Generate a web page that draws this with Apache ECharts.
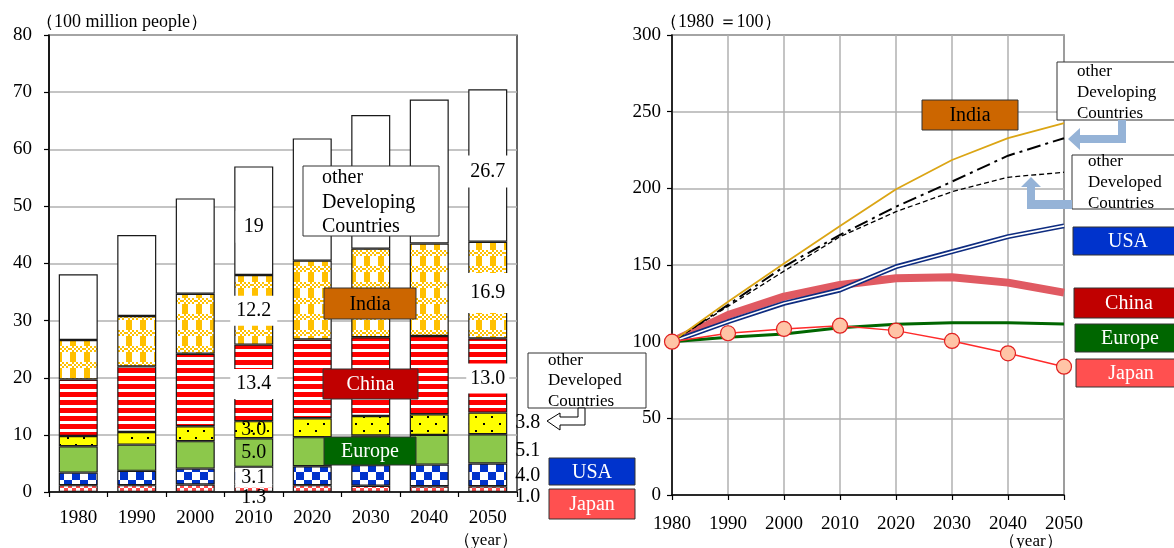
<!DOCTYPE html>
<html>
<head>
<meta charset="utf-8">
<script src="https://cdn.jsdelivr.net/npm/echarts@6/dist/echarts.min.js"></script>
<style>
  html, body { margin: 0; padding: 0; background: #ffffff; }
  #main { width: 1174px; height: 548px; }
</style>
</head>
<body>
<div id="main"></div>
<script>
// ---- Population by region (100 million people) ----
const years = ['1980', '1990', '2000', '2010', '2020', '2030', '2040', '2050'];

const popJapan        = [1.2, 1.2, 1.3, 1.3, 1.2, 1.1, 1.0, 1.0];
const popUSA          = [2.2, 2.5, 2.8, 3.1, 3.3, 3.6, 3.8, 4.0];
const popEurope       = [4.6, 4.6, 4.8, 5.0, 5.1, 5.2, 5.2, 5.1];
const popOtherDevd    = [1.8, 2.2, 2.6, 3.0, 3.3, 3.4, 3.6, 3.8];
const popChina        = [9.9, 11.5, 12.7, 13.4, 13.8, 13.8, 13.7, 13.0];
const popIndia        = [6.9, 8.8, 10.5, 12.2, 13.8, 15.5, 16.2, 16.9];
const popOtherDevg    = [11.5, 14.2, 16.7, 19, 21.4, 23.4, 25.2, 26.7];

// ---- Population index (1980 = 100) ----
const idxIndia        = [100, 126, 151, 175.5, 199.4, 218.5, 232.7, 242.5];
const idxOtherDevg    = [100, 124, 148.9, 169.6, 188, 204.4, 221.3, 232.7];
const idxOtherDevd    = [100, 123, 146, 168.5, 184.8, 197.8, 207.2, 210.5];
const idxUSA          = [100, 113, 125, 133.7, 148.9, 158.7, 168.5, 175.5];
const idxChina        = [100, 117.4, 129.4, 137, 141.4, 142, 138.5, 132];
const idxEurope       = [100, 102.9, 105, 109.1, 111.4, 112.4, 112.4, 111.5];
const idxJapan        = [100, 105.5, 108.3, 110.4, 107.2, 100.5, 92.4, 83.7];

const FONT = '"Liberation Serif", "Times New Roman", serif';

// ---- fill patterns for the stacked bars ----
function makePattern(w, h, draw) {
  const c = document.createElement('canvas');
  c.width = w; c.height = h;
  const g = c.getContext('2d');
  draw(g, w, h);
  return { image: c, repeat: 'repeat' };
}
const patJapan = makePattern(8, 8, (g) => {
  g.fillStyle = '#ffffff'; g.fillRect(0, 0, 8, 8);
  g.fillStyle = '#FF4B4B'; g.fillRect(0, 0, 4, 4); g.fillRect(4, 4, 4, 4);
});
const patUSA = makePattern(16, 16, (g) => {
  g.fillStyle = '#ffffff'; g.fillRect(0, 0, 16, 16);
  g.fillStyle = '#0033CC'; g.fillRect(0, 0, 8, 8); g.fillRect(8, 8, 8, 8);
});
const patOtherDevd = makePattern(16, 14, (g) => {
  g.fillStyle = '#FFFF00'; g.fillRect(0, 0, 16, 14);
  g.fillStyle = '#000000'; g.fillRect(3, 3, 2, 2); g.fillRect(11, 10, 2, 2);
});
const patChina = makePattern(4, 8, (g) => {
  g.fillStyle = '#ffffff'; g.fillRect(0, 0, 4, 8);
  g.fillStyle = '#FF0000'; g.fillRect(0, 0, 4, 5);
});
const patIndia = makePattern(14, 16, (g) => {
  g.fillStyle = '#ffffff'; g.fillRect(0, 0, 14, 16);
  g.fillStyle = '#FFC000';
  g.fillRect(0, 0, 6, 10);
  for (let y = 10; y < 16; y += 2) {
    for (let x = 0; x < 14; x += 2) {
      if (((x + y) / 2) % 2 === 0) g.fillRect(x, y, 2, 2);
    }
  }
});

// ---- bar labels (value text shown on the 2010 and 2050 columns) ----
const baseLbl = { show: true, color: '#000', fontSize: 20, fontFamily: FONT,
  formatter: (p) => Number(p.value).toFixed(1) };
const boxed = (extra) => Object.assign({}, baseLbl, { position: 'inside', backgroundColor: '#ffffff' }, extra);
const plain = (extra) => Object.assign({}, baseLbl, { position: 'inside' }, extra);
const side  = (extra) => Object.assign({}, baseLbl, { position: 'right', distance: 8 }, extra);

function barData(values, labelByIndex) {
  return values.map((v, i) => labelByIndex[i] ? { value: v, label: labelByIndex[i] } : v);
}

const barBorder = { borderColor: '#1a1a1a', borderWidth: 1.2 };
function barSeries(name, values, color, labels) {
  return {
    name, type: 'bar', stack: 'pop', xAxisIndex: 0, yAxisIndex: 0,
    barWidth: 39,
    itemStyle: Object.assign({ color }, barBorder),
    data: barData(values, labels)
  };
}

const lineBase = { type: 'line', xAxisIndex: 1, yAxisIndex: 1, symbol: 'none' };

const option = {
  animation: false,
  backgroundColor: '#ffffff',
  textStyle: { fontFamily: FONT },
  grid: [
    { left: 49, top: 35, width: 468, height: 457, show: true, borderColor: '#000', borderWidth: 1.2 },
    { left: 672, top: 35, width: 392, height: 460, show: true, borderColor: '#000', borderWidth: 1.2 }
  ],
  xAxis: [
    {
      type: 'category', gridIndex: 0, data: years,
      axisLine: { lineStyle: { color: '#000', width: 1.5 } },
      axisTick: { show: true, length: 5, lineStyle: { color: '#000', width: 1.2 } },
      axisLabel: { color: '#000', fontSize: 19, fontFamily: FONT, margin: 17, interval: 0 }
    },
    {
      type: 'category', gridIndex: 1, data: years, boundaryGap: false,
      axisLine: { lineStyle: { color: '#000', width: 1.5 } },
      axisTick: { show: true, length: 5, lineStyle: { color: '#000', width: 1.2 } },
      axisLabel: { color: '#000', fontSize: 19, fontFamily: FONT, margin: 20, interval: 0 },
      splitLine: { show: true, lineStyle: { color: '#B0B0B0', width: 1.5 } }
    }
  ],
  yAxis: [
    {
      type: 'value', gridIndex: 0, min: 0, max: 80, interval: 10,
      axisLine: { show: true, lineStyle: { color: '#000', width: 1.5 } },
      axisTick: { show: true, length: 5, lineStyle: { color: '#000', width: 1.2 } },
      axisLabel: { color: '#000', fontSize: 19, fontFamily: FONT, margin: 17 },
      splitLine: { show: true, lineStyle: { color: '#B0B0B0', width: 1.5 } }
    },
    {
      type: 'value', gridIndex: 1, min: 0, max: 300, interval: 50,
      axisLine: { show: true, lineStyle: { color: '#000', width: 1.5 } },
      axisTick: { show: true, length: 5, lineStyle: { color: '#000', width: 1.2 } },
      axisLabel: { color: '#000', fontSize: 19, fontFamily: FONT, margin: 11 },
      splitLine: { show: true, lineStyle: { color: '#B0B0B0', width: 1.5 } }
    }
  ],
  series: [
    barSeries('Japan', popJapan, patJapan, {
      3: plain({ offset: [0, 9] }),
      7: side({ offset: [0, 8] })
    }),
    barSeries('USA', popUSA, patUSA, {
      3: boxed({ padding: [0, 6], offset: [0, 2] }),
      7: side({ offset: [0, 1] })
    }),
    barSeries('Europe', popEurope, '#8CC84B', {
      3: plain({}),
      7: side({ offset: [0, 2] })
    }),
    barSeries('other Developed Countries', popOtherDevd, patOtherDevd, {
      3: plain({}),
      7: side({ offset: [0, -1] })
    }),
    barSeries('China', popChina, patChina, {
      3: boxed({ padding: [5, 6], offset: [0, 1] }),
      7: boxed({ padding: [5, 4], offset: [0, 3] })
    }),
    barSeries('India', popIndia, patIndia, {
      3: boxed({ padding: [5, 6], offset: [0, 1] }),
      7: boxed({ padding: [10, 4], offset: [0, 3] })
    }),
    barSeries('other Developing Countries', popOtherDevg, '#ffffff', {
      3: boxed({ padding: [6, 8], offset: [0, 6], formatter: '{c}' }),
      7: boxed({ padding: [6, 4], offset: [0, 6] })
    }),

    Object.assign({}, lineBase, { name: 'China', data: idxChina, z: 2,
      lineStyle: { color: '#E05A62', width: 8 } }),
    Object.assign({}, lineBase, { name: 'Europe', data: idxEurope, z: 3,
      lineStyle: { color: '#006600', width: 3 } }),
    Object.assign({}, lineBase, { name: 'USA', data: idxUSA, z: 3,
      lineStyle: { color: '#0E2C80', width: 5 } }),
    Object.assign({}, lineBase, { name: 'USA inner', data: idxUSA, z: 3,
      lineStyle: { color: '#ffffff', width: 1.6 } }),
    Object.assign({}, lineBase, { name: 'other Developed Countries', data: idxOtherDevd, z: 4,
      lineStyle: { color: '#000', width: 1.3, type: [5, 3] } }),
    Object.assign({}, lineBase, { name: 'other Developing Countries', data: idxOtherDevg, z: 4,
      lineStyle: { color: '#000', width: 2, type: [14, 5, 3, 5] } }),
    Object.assign({}, lineBase, { name: 'India', data: idxIndia, z: 4,
      lineStyle: { color: '#DBA514', width: 1.8 } }),
    Object.assign({}, lineBase, { name: 'Japan', data: idxJapan, z: 6,
      symbol: 'circle', symbolSize: 15,
      itemStyle: { color: '#FFC4A6', borderColor: '#E02020', borderWidth: 1.2 },
      lineStyle: { color: '#FF2A2A', width: 1.5 } })
  ],
  graphic: []
};

// ---- annotation boxes, arrows and unit captions ----
const G = option.graphic;
function rect(x, y, w, h, fill, stroke) {
  G.push({ type: 'rect', z: 100, shape: { x, y, width: w, height: h },
    style: { fill, stroke: stroke || '#333', lineWidth: 1 } });
}
function text(x, y, str, size, color, align, vAlign, lineHeight) {
  G.push({ type: 'text', z: 101, x, y,
    style: { text: str, fontSize: size, fontFamily: FONT, fill: color,
      align, verticalAlign: vAlign, textAlign: align, textVerticalAlign: vAlign,
      lineHeight: lineHeight || size + 2 } });
}
function tag(x, y, w, h, fill, str, color) {
  rect(x, y, w, h, fill, '#333');
  text(x + w / 2, y + h / 2 + 1, str, 20, color, 'center', 'middle');
}
function poly(points, fill, stroke) {
  G.push({ type: 'polygon', z: 100, shape: { points },
    style: { fill, stroke: stroke || null, lineWidth: stroke ? 1 : 0 } });
}

// unit captions
text(36, 22, '（100 million people）', 18, '#000', 'left', 'middle');
text(660, 22, '（1980 ＝100）', 18, '#000', 'left', 'middle');
text(486, 541, '（year）', 17, '#000', 'center', 'middle');
text(1031, 542, '（year）', 17, '#000', 'center', 'middle');

// bar chart region tags
rect(303, 166, 136, 70, '#ffffff', '#333');
text(322, 165.5, 'other\nDeveloping\nCountries', 20, '#000', 'left', 'top', 24.5);
tag(324, 288, 92, 31, '#CC6600', 'India', '#000');
tag(323, 369, 95, 30, '#C00000', 'China', '#ffffff');
tag(324, 437, 92, 28, '#006600', 'Europe', '#ffffff');
rect(528, 353, 118, 55, '#ffffff', '#333');
text(548, 350.6, 'other\nDeveloped\nCountries', 17, '#000', 'left', 'top', 20.2);
poly([[547, 421], [560, 413], [560, 417], [578, 417], [578, 408], [585, 408],
      [585, 425], [560, 425], [560, 430]], '#ffffff', '#000');
tag(549, 458, 86, 27, '#0033CC', 'USA', '#ffffff');
tag(549, 489, 86, 30, '#FF5050', 'Japan', '#ffffff');

// index chart region tags
tag(922, 100, 96, 30, '#CC6600', 'India', '#000');
rect(1057, 62, 130, 58, '#ffffff', '#333');
text(1077, 61.3, 'other\nDeveloping\nCountries', 17, '#000', 'left', 'top', 20.7);
poly([[1068, 139], [1080, 128], [1080, 135], [1118, 135], [1118, 120], [1126, 120],
      [1126, 143], [1080, 143], [1080, 150]], '#95B3D7');
rect(1072, 155, 120, 54, '#ffffff', '#333');
text(1088, 151.5, 'other\nDeveloped\nCountries', 17, '#000', 'left', 'top', 21);
poly([[1031, 177], [1041, 187], [1035, 187], [1035, 200], [1072, 200], [1072, 209],
      [1027, 209], [1027, 187], [1021, 187]], '#95B3D7');
tag(1073, 227, 110, 28, '#0033CC', 'USA', '#ffffff');
tag(1074, 288, 110, 30, '#C00000', 'China', '#ffffff');
tag(1075, 324, 110, 28, '#006600', 'Europe', '#ffffff');
tag(1076, 359, 110, 28, '#FF5050', 'Japan', '#ffffff');

const chart = echarts.init(document.getElementById('main'), null, { renderer: 'canvas' });
chart.setOption(option);
</script>
</body>
</html>
